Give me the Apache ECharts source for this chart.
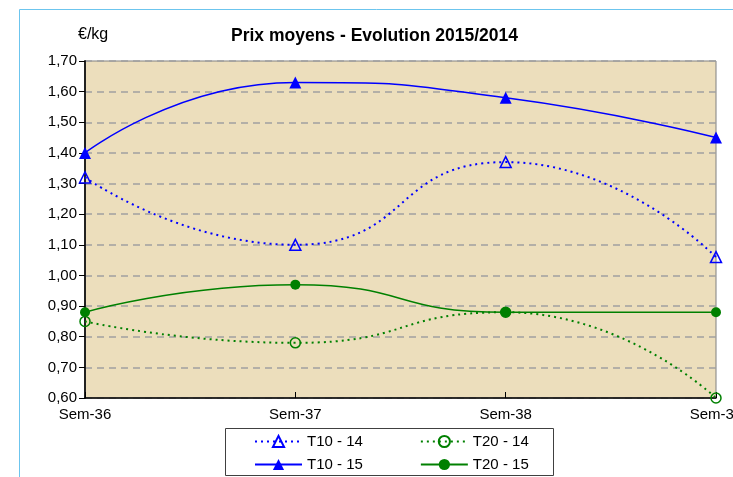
<!DOCTYPE html>
<html><head><meta charset="utf-8">
<script src="https://cdn.jsdelivr.net/npm/echarts@6/dist/echarts.min.js"></script>
<style>html,body{margin:0;padding:0;background:#fff}#c{width:733px;height:477px}</style>
</head><body><div id="c"></div>
<script>
const categories = ['Sem-36', 'Sem-37', 'Sem-38', 'Sem-39'];
const t10_14 = [1.32, 1.10, 1.37, 1.06];
const t20_14 = [0.85, 0.78, 0.88, 0.60];
const t10_15 = [1.40, 1.63, 1.58, 1.45];
const t20_15 = [0.88, 0.97, 0.88, 0.88];

const chart = echarts.init(document.getElementById('c'));
const font = 'Liberation Sans, Arial, sans-serif';
const blue = '#0000ff', green = '#008000';
const legendCommon = {
  itemWidth: 47, itemHeight: 14, itemGap: 57, padding: 0,
  textStyle: {fontSize: 15, color: '#000', fontFamily: font}
};
chart.setOption({
  animation: false,
  textStyle: {fontFamily: font},
  graphic: [
    {type: 'rect', shape: {x: 19.5, y: 9.5, width: 800, height: 600}, style: {fill: 'none', stroke: '#6cc5ee', lineWidth: 1}, z: -10},
    {type: 'rect', shape: {x: 225.5, y: 428.5, width: 328, height: 47}, style: {fill: '#fff', stroke: '#404040', lineWidth: 1}, z: -5},
    {type: 'text', left: 78, top: 27, style: {text: '€/kg', font: '16px ' + font, fill: '#000'}}
  ],
  title: {text: 'Prix moyens - Evolution 2015/2014', left: 226, top: 22,
    textStyle: {fontSize: 17.5, fontWeight: 'bold', color: '#000', fontFamily: font}},
  grid: {left: 85, right: 17, top: 61, bottom: 79, outerBoundsMode: 'none', containLabel: false,
    show: true, backgroundColor: '#ecdebc', borderColor: '#808080', borderWidth: 1},
  legend: [
    Object.assign({left: 254, top: 434, data: ['T10 - 14', 'T20 - 14']}, legendCommon),
    Object.assign({left: 254, top: 457, data: ['T10 - 15', 'T20 - 15']}, legendCommon)
  ],
  xAxis: {
    type: 'category', data: categories, boundaryGap: false,
    axisLine: {lineStyle: {color: '#000', width: 1.5}},
    axisTick: {show: true, inside: true, length: 6, lineStyle: {color: '#000'}},
    axisLabel: {color: '#000', fontSize: 15, margin: 9, fontFamily: font},
    splitLine: {show: false}
  },
  yAxis: {
    type: 'value', min: 0.6, max: 1.7, interval: 0.1,
    axisLine: {show: true, lineStyle: {color: '#222', width: 2}},
    axisTick: {show: true, length: 6, lineStyle: {color: '#000'}},
    axisLabel: {color: '#000', fontSize: 15, margin: 8, fontFamily: font,
      formatter: v => v.toFixed(2).replace('.', ',')},
    splitLine: {show: true, lineStyle: {color: '#a0a0a0', width: 1.5, type: [7, 5]}}
  },
  series: [
    {name: 'T10 - 14', type: 'line', data: t10_14, smooth: 0.55, symbol: 'triangle', symbolSize: 11,
      lineStyle: {color: blue, width: 2, type: [2, 4]},
      itemStyle: {color: 'rgba(255,255,255,0)', borderColor: blue, borderWidth: 1.5}},
    {name: 'T20 - 14', type: 'line', data: t20_14, smooth: 0.55, symbol: 'circle', symbolSize: 10,
      lineStyle: {color: green, width: 2, type: [2, 4]},
      itemStyle: {color: 'rgba(255,255,255,0)', borderColor: green, borderWidth: 1.5}},
    {name: 'T10 - 15', type: 'line', data: t10_15, smooth: 0.55, symbol: 'triangle', symbolSize: 12,
      lineStyle: {color: blue, width: 1.5}, itemStyle: {color: blue}},
    {name: 'T20 - 15', type: 'line', data: t20_15, smooth: 0.55, symbol: 'circle', symbolSize: 10,
      lineStyle: {color: green, width: 1.5}, itemStyle: {color: green}}
  ]
});
</script></body></html>
